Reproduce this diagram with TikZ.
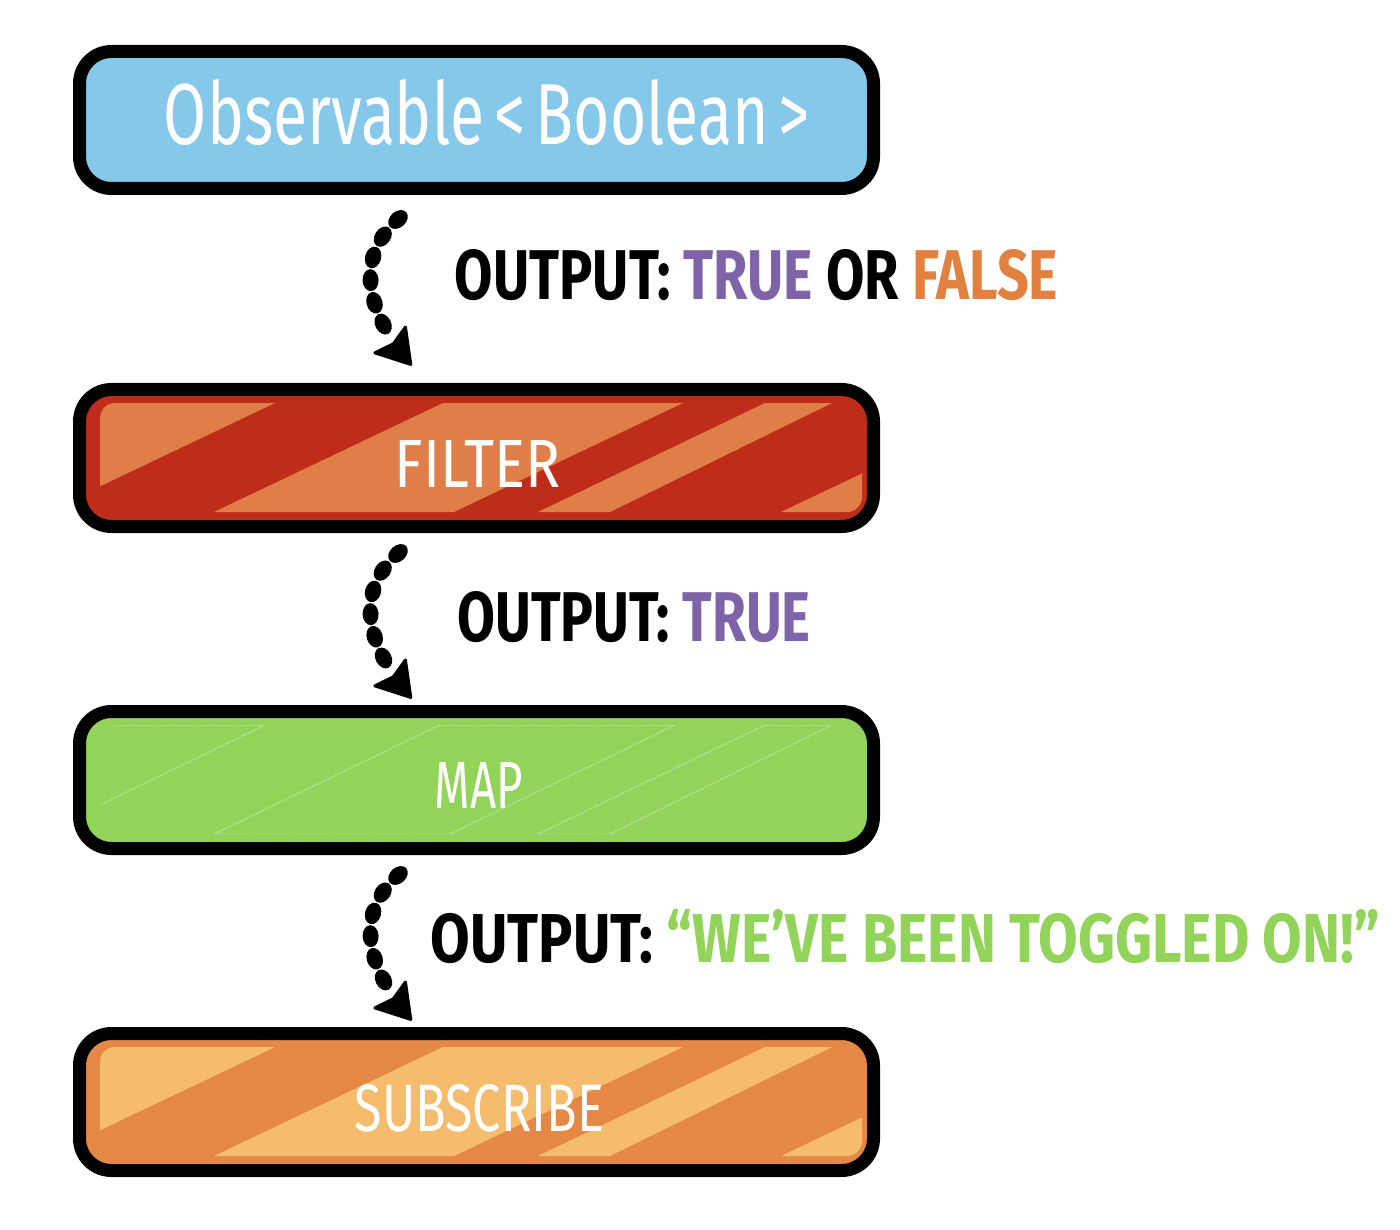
\documentclass[tikz,border=0pt]{standalone}
\usepackage{graphicx}
\usepackage{fontspec}
\setmainfont{Fira Sans}
\usetikzlibrary{decorations.markings}

\definecolor{skyfill}{HTML}{86C8E9}
\definecolor{filterred}{HTML}{BF2C1A}
\definecolor{filterstripe}{HTML}{DF7E48}
\definecolor{mapgreen}{HTML}{92D35A}
\definecolor{subscribeorange}{HTML}{E68845}
\definecolor{subscribestripe}{HTML}{F5BC6E}
\definecolor{truepurple}{HTML}{7F63A8}
\definecolor{falseorange}{HTML}{E28040}
\definecolor{quotegreen}{HTML}{92D35A}

\tikzset{
  stage/.style={draw=black, line width=13pt, rounded corners=32pt,
    minimum width=794pt, minimum height=137pt, inner sep=0pt},
  stagetext/.style={text=white, inner sep=0pt},
  outtext/.style={inner sep=0pt, font=\bfseries},
  flow/.style={decoration={markings,
      mark=between positions 0 and 0.8 step 23pt with
        {\fill[black] (0,0) ellipse [x radius=11pt, y radius=8pt];},
      mark=at position 0.995 with
        {\fill[black, draw=black, line width=3pt, line join=round]
          (2,0) -- (-30,20) -- (-25,0) -- (-30,-20) -- cycle;}},
    postaction={decorate}},
}

% diagonal bands inside a stage box; #1 = top of the band area, #2 = colour
\newcommand{\stripeband}[2]{%
  \begin{scope}[shift={(0,#1)}]
    \clip[rounded corners=15pt] (100,0) rectangle (862,109);
    \fill[#2] (0,0) -- (275,0) -- (46,109) -- (0,109) -- cycle;
    \fill[#2] (443,0) -- (683,0) -- (454,109) -- (214,109) -- cycle;
    \fill[#2] (765,0) -- (832,0) -- (610,109) -- (538,109) -- cycle;
    \fill[#2] (1010,0) -- (1300,0) -- (1300,109) -- (781,109) -- cycle;
  \end{scope}}

% faint dotted outlines of the same bands
\newcommand{\stripeghost}[1]{%
  \begin{scope}[shift={(0,#1)}]
    \clip[rounded corners=15pt] (100,0) rectangle (862,109);
    \begin{scope}[draw=white, opacity=0.35, line width=1.5pt, densely dotted]
      \draw (100,0) -- (265,0) -- (100,80);
      \draw (440,0) -- (675,0) -- (450,109) -- (214,109) -- cycle;
      \draw (765,0) -- (832,0) -- (610,109) -- (538,109) -- cycle;
      \draw (1010,0) -- (862,70);
    \end{scope}
  \end{scope}}

\begin{document}
\begin{tikzpicture}[x=1pt, y=-1pt]
  \useasboundingbox (0,0) rectangle (1400,1230);
  \fill[white] (0,0) rectangle (1400,1230);

  % stage boxes
  \node[stage, fill=skyfill] (source) at (476.5,120) {};
  \node[stage, fill=filterred] (filter) at (476.5,458) {};
  \node[stage, fill=mapgreen] (map) at (476.5,780) {};
  \node[stage, fill=subscribeorange] (subscribe) at (476.5,1102) {};

  \stripeband{403}{filterstripe}
  \stripeghost{725}
  \stripeband{1047}{subscribestripe}

  % box captions
  \node[stagetext] (sourcelabel) at (487,112.5)
    {\resizebox{646pt}{65pt}{Observable\,<\,Boolean\,>}};
  \node[stagetext] (filterlabel) at (478,463.5)
    {\resizebox{166pt}{47pt}{FILTER}};
  \node[stagetext] (maplabel) at (479,785)
    {\resizebox{88pt}{46pt}{MAP}};
  \node[stagetext] (subscribelabel) at (479.5,1108.5)
    {\resizebox{249pt}{47pt}{SUBSCRIBE}};

  % dotted connectors
  \path[flow] ([shift={(-78.5pt,-24.5pt)}]source.south)
    .. controls +(-43,38) and +(-45,-53) .. ([shift={(-66.5pt,19.5pt)}]filter.north);
  \path[flow] ([shift={(-78.5pt,-20.5pt)}]filter.south)
    .. controls +(-43,38) and +(-45,-53) .. ([shift={(-66.5pt,8.5pt)}]map.north);
  \path[flow] ([shift={(-78.5pt,-20.5pt)}]map.south)
    .. controls +(-43,38) and +(-45,-53) .. ([shift={(-66.5pt,8.5pt)}]subscribe.north);

  % output notes
  \node[outtext] (out1) at (756.5,275)
    {\resizebox{603pt}{50pt}{OUTPUT: \textcolor{truepurple}{TRUE} OR \textcolor{falseorange}{FALSE}}};
  \node[outtext] (out2) at (634,617)
    {\resizebox{353pt}{50pt}{OUTPUT: \textcolor{truepurple}{TRUE}}};
  \node[outtext] (out3) at (905.5,936.5)
    {\resizebox{949pt}{53pt}{OUTPUT: \textcolor{quotegreen}{“WE’VE BEEN TOGGLED ON!”}}};
\end{tikzpicture}
\end{document}
